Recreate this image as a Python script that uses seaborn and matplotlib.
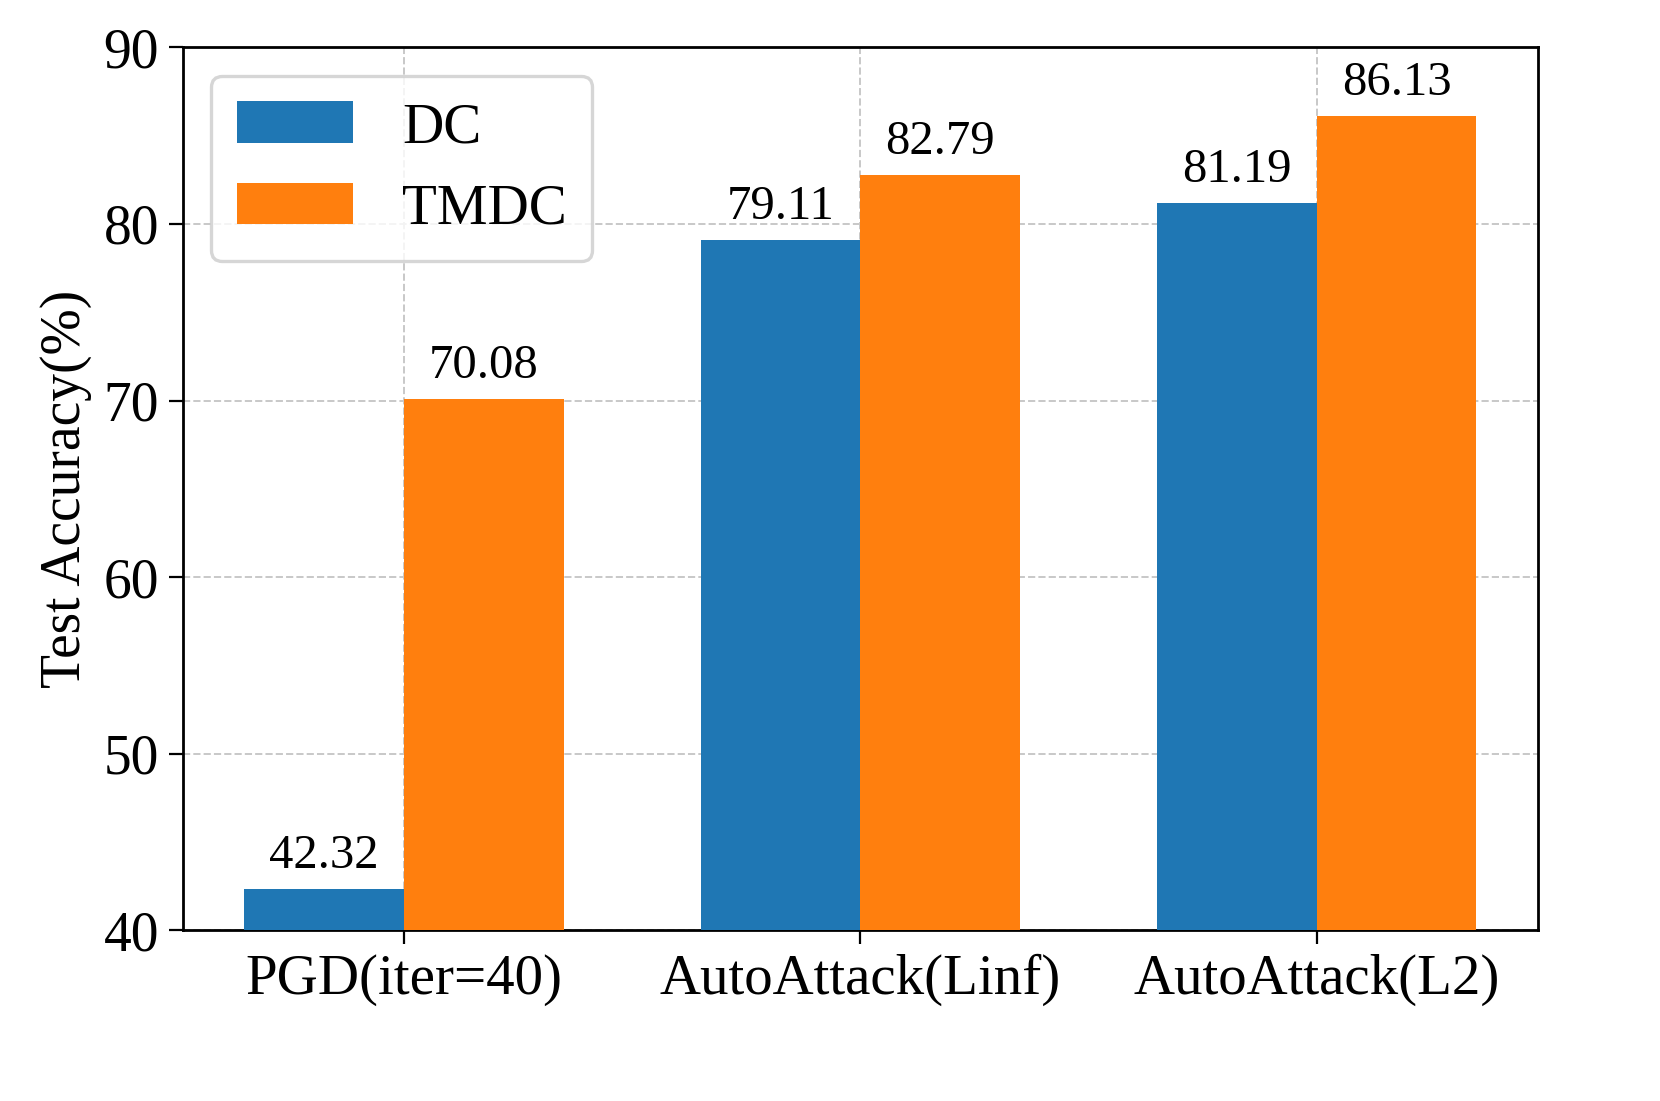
import seaborn as sns
import matplotlib.pyplot as plt
import pandas as pd

# data
attacks = ['PGD(iter=40)', 'AutoAttack(Linf)', 'AutoAttack(L2)']
methods = ['DC', 'TMDC']
dc_acc = [42.32, 79.11, 81.19]
tmdc_acc = [70.08, 82.79, 86.13]

df = pd.DataFrame({
    'attack': attacks * 2,
    'method': ['DC'] * 3 + ['TMDC'] * 3,
    'acc': dc_acc + tmdc_acc,
})

sns.set_style('ticks')
plt.rcParams['font.family'] = ['Liberation Serif', 'DejaVu Serif']
plt.rcParams['text.color'] = 'black'
plt.rcParams['axes.labelcolor'] = 'black'
plt.rcParams['xtick.color'] = 'black'
plt.rcParams['ytick.color'] = 'black'
plt.rcParams['axes.edgecolor'] = 'black'

fig, ax = plt.subplots(figsize=(8.3, 5.505), dpi=200)
fig.subplots_adjust(left=0.110, right=0.9265, top=0.957, bottom=0.155)

sns.barplot(data=df, x='attack', y='acc', hue='method', hue_order=methods,
            order=attacks, palette=['#1f77b4', '#ff7f0e'], width=0.7,
            saturation=1, linewidth=0, ax=ax, zorder=3)

for cont in ax.containers:
    ax.bar_label(cont, fmt='%.2f', padding=4, fontsize=17.5, color='black')

ax.set_ylim(40, 90)
ax.set_xlim(-0.485, 2.485)
ax.set_xlabel('')
ax.set_ylabel('Test Accuracy(%)', fontsize=20)
ax.tick_params(axis='both', labelsize=20, direction='out', length=5)
ax.tick_params(axis='x', labelsize=20.5)
ax.grid(True, linestyle='--', color='#c8c8c8', linewidth=0.7, zorder=0)
ax.set_axisbelow(True)
for s in ax.spines.values():
    s.set_visible(True)
    s.set_linewidth(1.0)

leg = ax.legend(loc='upper left', fontsize=20.5, frameon=True, fancybox=True,
                handlelength=2.05, handleheight=0.75, borderpad=0.45,
                labelspacing=0.5, handletextpad=0.85, title=None)
leg.get_frame().set_edgecolor('#cccccc')
leg.get_frame().set_linewidth(1.2)

plt.savefig('out.png', dpi=200)
